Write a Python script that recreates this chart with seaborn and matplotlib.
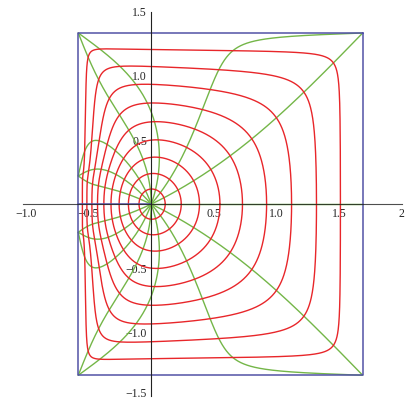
import numpy as np
import pandas as pd
import matplotlib
matplotlib.use("Agg")
import matplotlib.pyplot as plt
from matplotlib.ticker import MultipleLocator, FixedLocator, FixedFormatter
from matplotlib.transforms import ScaledTranslation
import seaborn as sns

# Harmonic (Poisson) extension of a step function on the unit circle.
# Upper-half arcs carry these polygon vertex values; the lower half is mirrored.
vertex_x = [1.688, -0.582, -0.582]
vertex_y = [1.335, 1.335, 0.22]
arc_end_deg = [46.15, 105.0, 180.0]         # arcs run 0 -> 46.15 -> 105 -> 180 degrees

circle_radii = [0.1, 0.2, 0.3, 0.4, 0.5, 0.6, 0.7, 0.8, 0.9]
ray_angles_deg = [0, 22.5, 45, 67.5, 90, 112.5, 135, 157.5,
                  202.5, 225, 247.5, 270, 292.5, 315, 337.5]
seam_angle_deg = 180

x_ticks = [-1.0, -0.5, 0.5, 1.0, 1.5, 2.0]
x_tick_labels = ["\u22121.0", "\u22120.5", "0.5", "1.0", "1.5", "2"]
y_ticks = [-1.5, -1.0, -0.5, 0.5, 1.0, 1.5]
y_tick_labels = ["\u22121.5", "\u22121.0", "\u22120.5", "0.5", "1.0", "1.5"]

RED = "#e8262a"
GREEN = "#74b648"
BLUE = "#5252a6"


def build_arcs():
    ends = np.radians(arc_end_deg)
    starts = np.concatenate([[0.0], ends[:-1]])
    vals = np.array(vertex_x) + 1j * np.array(vertex_y)
    arcs = [(s, e, v) for s, e, v in zip(starts, ends, vals)]
    # mirror image arcs in the lower half
    for s, e, v in zip(starts[::-1], ends[::-1], vals[::-1]):
        arcs.append((2 * np.pi - e, 2 * np.pi - s, np.conj(v)))
    return arcs


ARCS = build_arcs()


def arc_measure(z, s, e):
    ratio = (np.exp(1j * e) - z) / (np.exp(1j * s) - z) * np.exp(-0.5j * (e - s))
    return np.angle(ratio) / np.pi


def harmonic_map(z):
    out = np.zeros_like(z, dtype=complex)
    for s, e, v in ARCS:
        out = out + v * arc_measure(z, s, e)
    return out


frames = []
theta = np.linspace(0, 2 * np.pi, 1200)
for i, r in enumerate(circle_radii):
    w = harmonic_map(r * np.exp(1j * theta))
    frames.append(pd.DataFrame({"x": w.real, "y": w.imag, "curve": f"c{i}", "kind": "circle"}))

rr = 1 - np.geomspace(1, 2e-4, 900)
for i, a in enumerate(ray_angles_deg):
    w = harmonic_map(rr * np.exp(1j * np.radians(a)))
    frames.append(pd.DataFrame({"x": w.real, "y": w.imag, "curve": f"r{i}", "kind": "ray"}))

df = pd.concat(frames, ignore_index=True)

sns.set_style("white")
plt.rcParams["font.family"] = ["Liberation Serif", "DejaVu Serif"]

fig = plt.figure(figsize=(4.05, 4.01), dpi=100)
ax = fig.add_axes([0.056, 0.0115, 0.936, 0.9589])

sns.lineplot(data=df[df.kind == "circle"], x="x", y="y", units="curve",
             estimator=None, sort=False, color=RED, lw=1.0, ax=ax, zorder=3)
sns.lineplot(data=df[df.kind == "ray"], x="x", y="y", units="curve",
             estimator=None, sort=False, color=GREEN, lw=1.0, ax=ax, zorder=2)

# outer boundary: the polygon through the vertex values
poly = [complex(x, y) for x, y in zip(vertex_x, vertex_y)]
poly = poly + [np.conj(p) for p in poly[::-1]]
poly.append(poly[0])
px = [p.real for p in poly]
py = [p.imag for p in poly]
sns.lineplot(x=px, y=py, sort=False, estimator=None, color=BLUE, lw=1.1, ax=ax, zorder=4)

# seam of the polar parametrisation
seam = harmonic_map(rr * np.exp(1j * np.radians(seam_angle_deg)))
sns.lineplot(x=seam.real, y=seam.imag, sort=False, estimator=None, color=BLUE, lw=1.1, ax=ax, zorder=4)

ax.set_xlim(-1.026, 2.0)
ax.set_ylim(-1.5, 1.5)
ax.set_xlabel("")
ax.set_ylabel("")

for side in ["top", "right"]:
    ax.spines[side].set_visible(False)
for side in ["left", "bottom"]:
    ax.spines[side].set_position(("data", 0))
    ax.spines[side].set_color("#222222")
    ax.spines[side].set_linewidth(0.8)
    ax.spines[side].set_zorder(5)
ax.spines["bottom"].set_alpha(0.8)

ax.xaxis.set_major_locator(FixedLocator(x_ticks))
ax.xaxis.set_major_formatter(FixedFormatter(x_tick_labels))
ax.yaxis.set_major_locator(FixedLocator(y_ticks))
ax.yaxis.set_major_formatter(FixedFormatter(y_tick_labels))
ax.xaxis.set_minor_locator(MultipleLocator(0.1))
ax.yaxis.set_minor_locator(MultipleLocator(0.1))
ax.tick_params(which="major", direction="in", length=4.5, width=0.7, color="#222222",
               labelsize=8.5, pad=3)
ax.tick_params(which="minor", direction="in", length=2.5, width=0.6, color="#222222")
ax.set_facecolor("white")
ax.grid(False)

# keep the lowest y label inside the canvas
fig.canvas.draw()
low = ax.get_yticklabels()[0]
low.set_transform(low.get_transform() + ScaledTranslation(0, 2.5 / 72, fig.dpi_scale_trans))

fig.savefig("out.png", dpi=100, facecolor="white")
